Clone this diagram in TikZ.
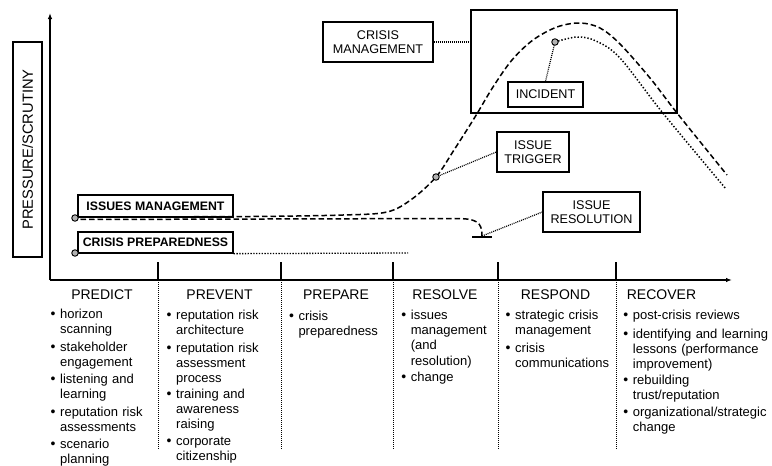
\documentclass[tikz,border=0pt]{standalone}
\usepackage{fontspec}
\setmainfont{Liberation Sans}
\usetikzlibrary{arrows.meta,calc}
\newcommand\bul{\leavevmode\llap{{\fontsize{14}{14}\selectfont\textbullet}\hspace{4.6pt}}}
\begin{document}
\begin{tikzpicture}[x=1pt,y=-1pt,
  lbox/.style={draw, line width=1.3pt, inner sep=0pt, align=center, font=\fontsize{12.6}{14.4}\selectfont},
  bbox/.style={draw, line width=1.3pt, inner sep=0pt, font=\bfseries\fontsize{12.3}{14}\selectfont},
  head/.style={anchor=base, inner sep=0pt, font=\fontsize{14}{16}\selectfont},
  item/.style={anchor=base west, inner sep=0pt, text width=170pt, align=left, font=\fontsize{13}{15.2}\selectfont},
  dashedline/.style={line width=1.5pt, dash pattern=on 5.5pt off 3pt},
  dottedline/.style={line width=1.2pt, dash pattern=on 1pt off 1pt},
  dot/.style={circle, draw, fill=gray!60, line width=0.9pt, inner sep=0pt, minimum size=6.5pt},
  axis/.style={line width=1.4pt},
  tickline/.style={line width=1.1pt},
  sepline/.style={line width=1pt, dash pattern=on 1pt off 1pt},
]
\useasboundingbox (0,0) rectangle (772,466);

% axes
\coordinate (o) at (50,280);
\coordinate (ytop) at (50,13);
\coordinate (xend) at (732,280);
\draw[axis, -{Latex[length=6pt,width=4.5pt]}] (o) -- (ytop);
\draw[axis, -{Latex[length=6pt,width=4.5pt]}] (o) -- (xend);
\foreach \x in {158,281,393,498,616}{
  \draw[tickline] (\x,262) -- (\x,280);
  \draw[sepline] (\x,280) -- (\x,449);
}

% y label
\node[draw, line width=1.3pt, rotate=90, minimum width=215pt, minimum height=29pt, inner sep=0pt,
      font=\fontsize{14.7}{16}\selectfont] (yb) at (27.5,149.5) {PRESSURE/SCRUTINY};

% key points
\coordinate (imp) at (75,218);
\coordinate (cpp) at (75,253);
\coordinate (trp) at (436,177);
\coordinate (incp) at (555,42);
\coordinate (res) at (482,236);
\coordinate (cpend) at (408,253);

% crisis curve
\draw[dashedline] plot[smooth, tension=0.55] coordinates {(75,217) (250,216.5) (343,215) (387,212) (412,199) (trp) (454,150) (475,117) (493,87) (512,60) (533,40) (557,27) (580,23) (600,28) (620,44) (650,78) (677,113) (727,175)};
% issue resolution line
\draw[dashedline, dash phase=3pt] (75,219.5) -- (455,218.5) .. controls (477,218.5) and (482,222) .. (res);
\draw[line width=1.3pt] ($(res)+(-10,1)$) -- ($(res)+(10,1)$);
% recovery dotted curve
\draw[line width=1.5pt, dash pattern=on 1.4pt off 1.9pt] plot[smooth, tension=0.55] coordinates {(incp) (577,37) (596,41) (620,58) (662,112) (726,189)};

% boxes
\node[draw, line width=1.3pt, minimum width=206pt, minimum height=103pt, inner sep=0pt] (cbox) at (574,61.5) {};
\node[lbox, minimum width=110pt, minimum height=40pt] (cm) at (378,42) {CRISIS\\MANAGEMENT};
\node[lbox, fill=white, minimum width=75pt, minimum height=25pt] (incb) at (545.5,94.5) {INCIDENT};
\node[lbox, minimum width=72pt, minimum height=40pt] (tb) at (533,152) {ISSUE\\TRIGGER};
\node[lbox, minimum width=97pt, minimum height=40pt] (rb) at (591.5,212) {ISSUE\\RESOLUTION};
\node[bbox, minimum width=155pt, minimum height=22pt] (imb) at (155.5,206) {ISSUES MANAGEMENT};
\node[bbox, minimum width=155pt, minimum height=21pt] (cpb) at (155.5,242.5) {CRISIS PREPAREDNESS};

% connectors
\draw[dottedline] (cm.east) -- (cm.east -| cbox.west);
\draw[dottedline] (incb.north) -- (incp);
\draw[dottedline] (trp) -- (tb.west);
\draw[dottedline] (res) -- (rb.west);
\draw[line width=1.3pt, dash pattern=on 1.3pt off 1.5pt] (cpb.south east) -- (cpend);

% dots
\node[dot] (im) at (imp) {};
\node[dot] (cp) at (cpp) {};
\node[dot] (trig) at (trp) {};
\node[dot] (inc) at (incp) {};

% headers
\node[head] (h1) at (102,299) {PREDICT};
\node[head] (h2) at (219.5,299) {PREVENT};
\node[head] (h3) at (336,299) {PREPARE};
\node[head] (h4) at (445,299) {RESOLVE};
\node[head] (h5) at (555.5,299) {RESPOND};
\node[head] (h6) at (661.5,299) {RECOVER};

% PREDICT
\node[item] (a1) at (60,318.5) {\bul horizon\\scanning};
\node[item] (a2) at (60,351) {\bul stakeholder\\engagement};
\node[item] (a3) at (60,383.5) {\bul listening and\\learning};
\node[item] (a4) at (60,416) {\bul reputation risk\\assessments};
\node[item] (a5) at (60,448.5) {\bul scenario\\planning};
% PREVENT
\node[item] (b1) at (176,319.5) {\bul reputation risk\\architecture};
\node[item] (b2) at (176,352) {\bul reputation risk\\assessment\\process};
\node[item] (b3) at (176,398.5) {\bul training and\\awareness\\raising};
\node[item] (b4) at (176,445.5) {\bul corporate\\citizenship};
% PREPARE
\node[item] (c1) at (298.3,320) {\bul crisis\\preparedness};
% RESOLVE
\node[item] (d1) at (410.7,319.5) {\bul issues\\management\\(and\\resolution)};
\node[item] (d2) at (410.7,381) {\bul change};
% RESPOND
\node[item] (e1) at (515,319.5) {\bul strategic crisis\\management};
\node[item] (e2) at (515,352) {\bul crisis\\communications};
% RECOVER
\node[item] (f1) at (632.7,319.5) {\bul post-crisis reviews};
\node[item] (f2) at (632.7,338.5) {\bul identifying and learning\\lessons (performance\\improvement)};
\node[item] (f3) at (632.7,384) {\bul rebuilding\\trust/reputation};
\node[item] (f4) at (632.7,416) {\bul organizational/strategic\\change};
\end{tikzpicture}
\end{document}
